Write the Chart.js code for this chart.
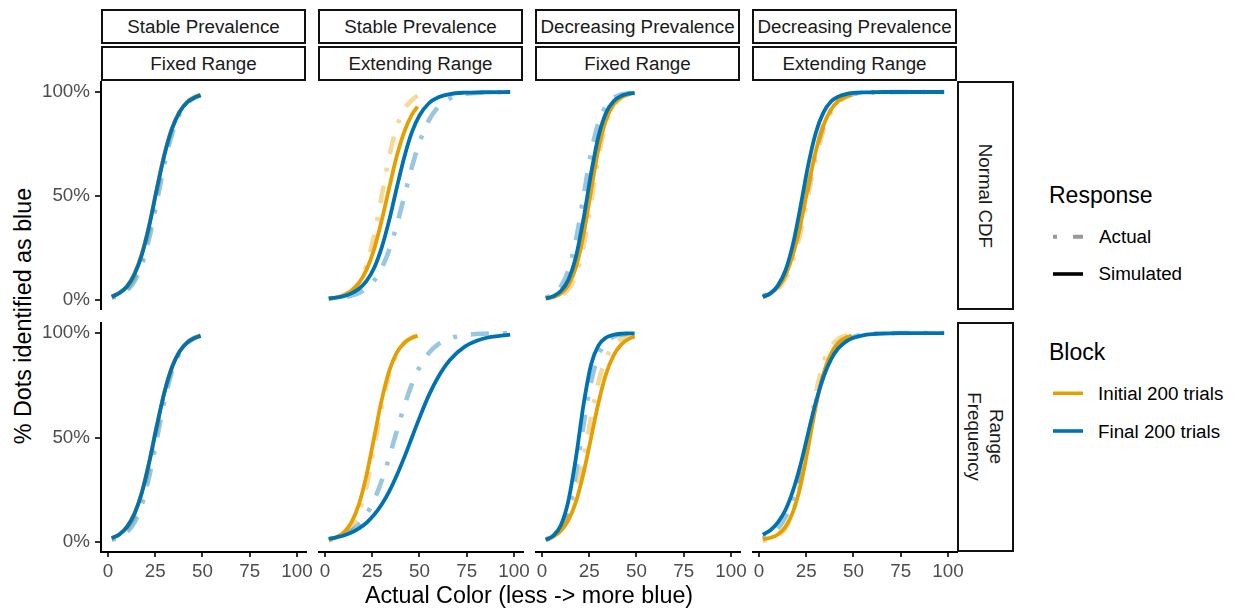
<!DOCTYPE html>
<html>
<head>
<meta charset="utf-8">
<script src="https://cdn.jsdelivr.net/npm/chart.js@4.4.1/dist/chart.umd.min.js"></script>
<style>
  body { margin: 0; background: #fff; width: 1238px; height: 612px; position: relative; overflow: hidden;
         font-family: "Liberation Sans", Arial, sans-serif; }
  canvas { position: absolute; }
  .strip { position: absolute; box-sizing: border-box; border: 2px solid #111; background: #fff;
           display: flex; align-items: center; justify-content: center; font-size: 18.8px; color: #1a1a1a; }
  .strip span { white-space: nowrap; line-height: 1.15; text-align: center; }
  .txt { position: absolute; white-space: nowrap; line-height: 1; color: #000; }
</style>
</head>
<body>
<script>
// x grids: initial block only covers the fixed range, final block in "extending" panels goes to 100
const X_FIXED = [2, 6, 10, 14, 18, 22, 26, 30, 34, 38, 42, 46, 49];
const X_EXT = [2, 6, 10, 14, 18, 22, 26, 30, 34, 38, 42, 46, 50, 55, 60, 66, 74, 84, 98];
const X_TICKS = [0, 25, 50, 75, 100];
const Y_TICKS = [0, 50, 100];

const colHeaders = [
  ['Stable Prevalence', 'Fixed Range'],
  ['Stable Prevalence', 'Extending Range'],
  ['Decreasing Prevalence', 'Fixed Range'],
  ['Decreasing Prevalence', 'Extending Range']
];
const rowHeaders = ['Normal CDF', 'Range<br>Frequency'];

// % dots identified as blue
// row 1: Normal CDF
const ncStableFixed_initActual = [1.25, 2.65, 5.4, 10.6, 20.0, 34.3, 52.2, 69.6, 82.8, 91.0, 95.5, 97.8, 98.7];
const ncStableFixed_initSim    = [1.7, 3.5, 6.7, 12.7, 22.6, 37.0, 54.5, 70.7, 82.9, 90.7, 95.2, 97.5, 98.5];
const ncStableFixed_finalActual= [1.05, 2.2, 4.5, 9.0, 17.2, 30.4, 47.8, 65.7, 80.0, 89.4, 94.6, 97.35, 98.45];
const ncStableFixed_finalSim   = [1.6, 3.3, 6.4, 12.3, 22.0, 36.4, 53.9, 70.2, 82.6, 90.5, 95.1, 97.4, 98.5];

const ncStableExt_initActual = [0.8, 1.3, 2.3, 4.3, 8.6, 16.8, 31.0, 50.0, 69.0, 83.2, 91.7, 96.1, 98.3];
const ncStableExt_initSim    = [0.7, 1.25, 2.4, 4.5, 8.2, 14.6, 24.4, 38.2, 54.0, 69.2, 81.0, 89.1, 93.0];
const ncStableExt_finalActual= [0.6, 0.9, 1.3, 2.1, 3.4, 5.6, 9.3, 15.3, 24.2, 36.1, 50.0, 63.9, 75.8, 86.5, 92.9, 96.9, 99.0, 99.75, 99.97];
const ncStableExt_finalSim   = [0.8, 1.2, 1.9, 3.2, 5.4, 9.2, 15.4, 25.2, 38.4, 54.0, 68.8, 80.7, 88.7, 94.6, 97.45, 99.0, 99.7, 99.9, 100];

const ncDecFixed_initActual = [0.6, 1.0, 2.2, 5.2, 12.1, 25.9, 47.0, 69.2, 85.1, 93.5, 97.3, 98.9, 99.45];
const ncDecFixed_initSim    = [0.9, 1.4, 3.1, 7.2, 15.8, 31.4, 52.7, 73.1, 86.9, 94.2, 97.5, 98.95, 99.45];
const ncDecFixed_finalActual= [1.2, 2.8, 6.5, 14.5, 29.1, 50.0, 70.9, 85.5, 93.5, 97.2, 98.8, 99.5, 99.75];
const ncDecFixed_finalSim   = [0.8, 1.8, 4.3, 9.8, 20.9, 39.1, 60.9, 79.1, 90.2, 95.7, 98.2, 99.25, 99.6];

const ncDecExt_initActual = [1.25, 2.6, 5.2, 10.2, 19.0, 32.5, 50.0, 67.5, 81.0, 89.8, 94.8, 97.4, 98.5];
const ncDecExt_initSim    = [1.5, 3.1, 6.1, 11.9, 21.9, 36.6, 54.5, 71.3, 83.7, 91.4, 95.7, 97.85, 98.75];
const ncDecExt_finalActual= [1.9, 3.6, 6.8, 12.6, 22.4, 36.8, 54.3, 71.0, 83.6, 91.3, 95.7, 97.9, 99.0, 99.55, 99.8, 99.9, 100, 100, 100];
const ncDecExt_finalSim   = [1.5, 3.2, 6.9, 14.2, 26.9, 45.0, 64.6, 80.2, 90.0, 95.3, 97.8, 99.0, 99.55, 99.8, 99.9, 100, 100, 100, 100];

// row 2: Range Frequency
const rfStableFixed_initActual = [1.5, 3.1, 6.1, 11.9, 21.9, 36.6, 54.5, 71.3, 83.7, 91.4, 95.7, 97.85, 98.75];
const rfStableFixed_initSim    = [1.9, 3.7, 7.3, 13.7, 24.2, 39.2, 56.5, 72.3, 84.1, 91.4, 95.6, 97.75, 98.7];
const rfStableFixed_finalActual= [1.05, 2.25, 4.65, 9.4, 18.1, 32.1, 50.0, 67.9, 81.9, 90.6, 95.35, 97.75, 98.7];
const rfStableFixed_finalSim   = [1.8, 3.6, 7.1, 13.4, 23.8, 38.8, 56.1, 72.0, 83.9, 91.3, 95.5, 97.7, 98.65];

const rfStableExt_initActual = [0.7, 1.5, 3.2, 6.9, 14.2, 26.9, 45.0, 64.6, 80.2, 90.0, 95.3, 97.8, 98.8];
const rfStableExt_initSim    = [1.05, 2.25, 4.65, 9.4, 18.1, 32.1, 50.0, 67.9, 81.9, 90.6, 95.35, 97.75, 98.7];
const rfStableExt_finalActual= [1.25, 2.0, 3.3, 5.3, 8.5, 13.3, 20.1, 29.3, 40.6, 53.2, 65.2, 75.6, 83.6, 90.5, 94.7, 97.4, 99.0, 99.7, 99.95];
const rfStableExt_finalSim   = [1.5, 2.2, 3.1, 4.5, 6.5, 9.2, 13.0, 17.9, 24.2, 31.9, 40.6, 50.0, 59.4, 70.3, 79.1, 87.0, 93.5, 97.4, 99.3];

const rfDecFixed_initActual = [1.2, 2.7, 5.7, 11.9, 23.1, 40.1, 59.9, 76.9, 88.1, 94.3, 97.3, 98.8, 99.3];
const rfDecFixed_initSim    = [1.0, 2.5, 5.4, 10.5, 19.3, 33.0, 50.0, 67.0, 80.7, 89.5, 94.6, 97.25, 98.35];
const rfDecFixed_finalActual= [1.1, 2.75, 6.8, 15.8, 33.0, 56.0, 76.7, 89.5, 95.7, 98.3, 99.3, 99.75, 99.9];
const rfDecFixed_finalSim   = [1.0, 3.0, 8.0, 19.8, 40.5, 65.8, 85.0, 94.2, 97.9, 99.2, 99.7, 99.85, 99.9];

const rfDecExt_initActual = [0.5, 1.2, 2.8, 6.5, 14.5, 29.1, 50.0, 70.9, 85.5, 93.5, 97.2, 98.8, 99.4];
const rfDecExt_initSim    = [1.2, 2.0, 3.6, 7.2, 14.4, 27.0, 45.0, 64.6, 80.2, 90.0, 95.3, 97.8, 98.8];
const rfDecExt_finalActual= [1.8, 3.4, 6.5, 11.9, 20.9, 33.9, 50.0, 66.1, 79.1, 88.1, 93.5, 96.6, 98.2, 99.2, 99.65, 99.9, 100, 100, 100];
const rfDecExt_finalSim   = [3.5, 5.6, 9.4, 15.3, 24.6, 37.0, 52.0, 66.6, 78.7, 87.2, 92.7, 95.9, 97.75, 98.95, 99.5, 99.8, 99.95, 100, 100];

const ORANGE = '#E69F00', BLUE = '#0072B2';
const ORANGE_LT = 'rgba(230,159,0,0.4)', BLUE_LT = 'rgba(0,114,178,0.4)';
const FONT = "'Liberation Sans', Arial, sans-serif";

// panel layout (px)
const colLeft = [101, 318, 535, 752];
const rowTop = [81, 322];
const rowH = [229, 230];
const panelW = 205;

// [row][col] -> x/y pairs: init actual, init sim, final actual, final sim
const panels = [
  [
    [X_FIXED, ncStableFixed_initActual, X_FIXED, ncStableFixed_initSim, X_FIXED, ncStableFixed_finalActual, X_FIXED, ncStableFixed_finalSim],
    [X_FIXED, ncStableExt_initActual, X_FIXED, ncStableExt_initSim, X_EXT, ncStableExt_finalActual, X_EXT, ncStableExt_finalSim],
    [X_FIXED, ncDecFixed_initActual, X_FIXED, ncDecFixed_initSim, X_FIXED, ncDecFixed_finalActual, X_FIXED, ncDecFixed_finalSim],
    [X_FIXED, ncDecExt_initActual, X_FIXED, ncDecExt_initSim, X_EXT, ncDecExt_finalActual, X_EXT, ncDecExt_finalSim]
  ],
  [
    [X_FIXED, rfStableFixed_initActual, X_FIXED, rfStableFixed_initSim, X_FIXED, rfStableFixed_finalActual, X_FIXED, rfStableFixed_finalSim],
    [X_FIXED, rfStableExt_initActual, X_FIXED, rfStableExt_initSim, X_EXT, rfStableExt_finalActual, X_EXT, rfStableExt_finalSim],
    [X_FIXED, rfDecFixed_initActual, X_FIXED, rfDecFixed_initSim, X_FIXED, rfDecFixed_finalActual, X_FIXED, rfDecFixed_finalSim],
    [X_FIXED, rfDecExt_initActual, X_FIXED, rfDecExt_initSim, X_EXT, rfDecExt_finalActual, X_EXT, rfDecExt_finalSim]
  ]
];

function line(xs, ys, color, actual) {
  return {
    data: xs.map((x, i) => ({ x: x, y: ys[i] })),
    borderColor: color,
    borderWidth: actual ? 4.6 : 3.8,
    borderDash: actual ? [4, 14, 18, 14] : [],
    borderCapStyle: 'butt',
    pointRadius: 0,
    cubicInterpolationMode: 'monotone',
    fill: false
  };
}

function addDiv(cls, html, css) {
  const d = document.createElement('div');
  d.className = cls;
  d.innerHTML = html;
  Object.assign(d.style, css);
  document.body.appendChild(d);
  return d;
}

const tickFont = { family: FONT, size: 18.8 };
const Y_AXIS_W = 62, X_AXIS_H = 40, PAD_R = 14;

for (let r = 0; r < 2; r++) {
  for (let c = 0; c < 4; c++) {
    const p = panels[r][c];
    const showY = c === 0, showX = r === 1;
    const w = panelW + (showY ? Y_AXIS_W : 0) + PAD_R;
    const h = rowH[r] + (showX ? X_AXIS_H : 0);
    const cv = document.createElement('canvas');
    cv.width = w; cv.height = h;
    cv.style.width = w + 'px'; cv.style.height = h + 'px';
    cv.style.left = (colLeft[c] - (showY ? Y_AXIS_W : 0)) + 'px';
    cv.style.top = rowTop[r] + 'px';
    document.body.appendChild(cv);

    new Chart(cv, {
      type: 'line',
      data: {
        datasets: [
          line(p[6], p[7], BLUE, false),
          line(p[2], p[3], ORANGE, false),
          line(p[4], p[5], BLUE_LT, true),
          line(p[0], p[1], ORANGE_LT, true)
        ]
      },
      options: {
        animation: false,
        responsive: false,
        events: [],
        layout: { padding: { left: 0, right: PAD_R, top: 0, bottom: 0 } },
        plugins: { legend: { display: false }, tooltip: { enabled: false } },
        scales: {
          x: {
            type: 'linear', min: -3.7, max: 104.8, display: showX,
            border: { display: true, color: '#000', width: 2 },
            grid: { display: true, drawOnChartArea: false, drawTicks: true, tickLength: 5, color: '#333', lineWidth: 2 },
            ticks: { font: tickFont, color: '#4d4d4d', padding: 4, maxRotation: 0, autoSkip: false },
            afterBuildTicks: s => { s.ticks = X_TICKS.map(v => ({ value: v })); },
            afterFit: s => { if (showX) { s.height = X_AXIS_H; } s.paddingLeft = 0; s.paddingRight = 0; }
          },
          y: {
            type: 'linear', min: -4.8, max: 105.3, display: showY,
            border: { display: true, color: '#000', width: 2 },
            grid: { display: true, drawOnChartArea: false, drawTicks: true, tickLength: 6, color: '#333', lineWidth: 2 },
            ticks: { font: tickFont, color: '#4d4d4d', padding: 5, callback: v => v + '%' },
            afterBuildTicks: s => { s.ticks = Y_TICKS.map(v => ({ value: v })); },
            afterFit: s => { if (showY) { s.width = Y_AXIS_W; } s.paddingTop = 0; s.paddingBottom = 0; }
          }
        }
      }
    });
  }
}

// facet strips
colHeaders.forEach((hd, c) => {
  addDiv('strip', '<span>' + hd[0] + '</span>', { left: colLeft[c] + 'px', top: '9px', width: panelW + 'px', height: '35px' });
  addDiv('strip', '<span>' + hd[1] + '</span>', { left: colLeft[c] + 'px', top: '46px', width: panelW + 'px', height: '35px' });
});
rowHeaders.forEach((hd, r) => {
  addDiv('strip', '<span style="transform:rotate(90deg)">' + hd + '</span>',
    { left: '957px', top: rowTop[r] + 'px', width: '57px', height: rowH[r] + 'px' });
});

// axis titles
addDiv('txt', '% Dots identified as blue', { left: '24px', top: '316px', fontSize: '23.3px', transform: 'translate(-50%,-50%) rotate(-90deg)' });
addDiv('txt', 'Actual Color (less -&gt; more blue)', { left: '529px', top: '596px', fontSize: '23.3px', transform: 'translate(-50%,-50%)' });

// legend
addDiv('txt', 'Response', { left: '1049px', top: '184px', fontSize: '23px' });
addDiv('txt', 'Actual', { left: '1099px', top: '227.5px', fontSize: '18.8px' });
addDiv('txt', 'Simulated', { left: '1098.5px', top: '265px', fontSize: '18.8px' });
addDiv('txt', 'Block', { left: '1049px', top: '340.5px', fontSize: '23px' });
addDiv('txt', 'Initial 200 trials', { left: '1098px', top: '385px', fontSize: '18.8px' });
addDiv('txt', 'Final 200 trials', { left: '1098px', top: '422.5px', fontSize: '18.8px' });

const key = document.createElement('canvas');
key.width = 40; key.height = 230;
key.style.left = '1050px'; key.style.top = '220px';
document.body.appendChild(key);
const k = key.getContext('2d');
k.lineCap = 'butt';
function keyLine(y, color, width, dash) {
  k.beginPath();
  k.setLineDash(dash);
  k.strokeStyle = color;
  k.lineWidth = width;
  k.moveTo(3, y); k.lineTo(33, y);
  k.stroke();
}
keyLine(16.7, 'rgba(0,0,0,0.4)', 4, [4, 16, 18, 16]);
keyLine(54, '#000', 3.6, []);
keyLine(173.3, ORANGE, 3.6, []);
keyLine(211, BLUE, 3.6, []);
</script>
</body>
</html>
